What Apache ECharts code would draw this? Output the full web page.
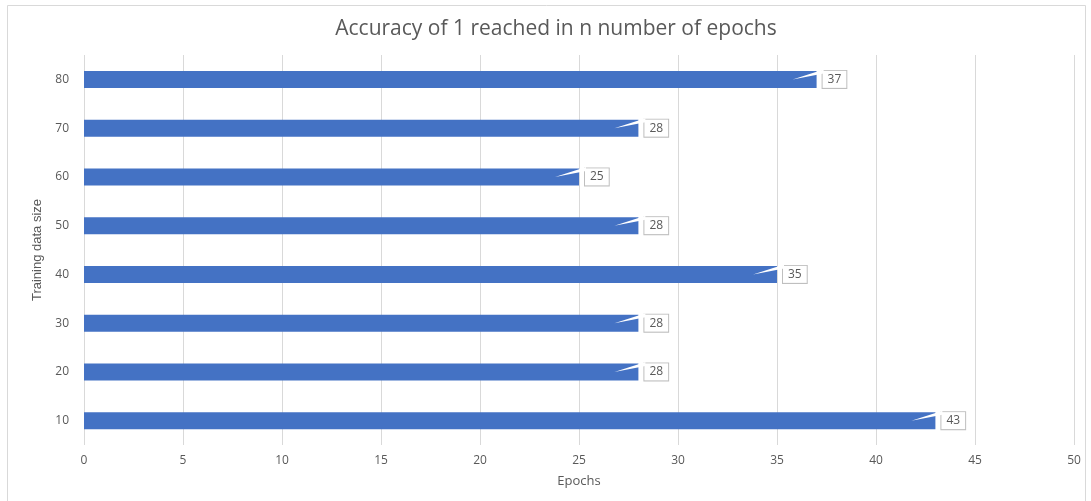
<!DOCTYPE html>
<html>
<head>
<meta charset="utf-8">
<script src="https://cdn.jsdelivr.net/npm/echarts@6/dist/echarts.min.js"></script>
<style>
  html, body { margin: 0; padding: 0; background: #fff; }
  #chart { width: 1091px; height: 501px; }
</style>
</head>
<body>
<div id="chart"></div>
<script>
// Training data sizes (bottom to top) and the epochs needed to reach accuracy 1
const sizes = ['10', '20', '30', '40', '50', '60', '70', '80'];
const epochs = [43, 28, 28, 35, 28, 25, 28, 37];
const epochTicks = [0, 5, 10, 15, 20, 25, 30, 35, 40, 45, 50];

const textColor = '#595959';
const barColor = '#4472c4';

const chart = echarts.init(document.getElementById('chart'), null, { renderer: 'canvas' });

chart.setOption({
  backgroundColor: '#ffffff',
  animation: false,
  title: {
    text: 'Accuracy of 1 reached in n number of epochs',
    left: 551,
    top: 14,
    textAlign: 'center',
    textStyle: { color: textColor, fontSize: 21, fontWeight: 'normal', fontFamily: 'Open Sans' }
  },
  graphic: [{
    type: 'rect',
    shape: { x: 7.5, y: 5.5, width: 1078, height: 500 },
    style: { fill: 'none', stroke: '#d9d9d9', lineWidth: 1 },
    silent: true
  }],
  grid: { left: 84, right: 17, top: 55, bottom: 56, containLabel: false },
  xAxis: {
    type: 'value',
    min: epochTicks[0],
    max: epochTicks[epochTicks.length - 1],
    interval: epochTicks[1] - epochTicks[0],
    name: 'Epochs',
    nameLocation: 'middle',
    nameGap: 30,
    nameTextStyle: { color: textColor, fontSize: 13, fontFamily: 'Open Sans' },
    axisLine: { show: false },
    axisTick: { show: false },
    axisLabel: { color: textColor, fontSize: 12, margin: 10, fontFamily: 'Open Sans' },
    splitLine: { show: true, lineStyle: { color: '#d9d9d9', width: 1 } }
  },
  yAxis: {
    type: 'category',
    data: sizes,
    name: 'Training data size',
    nameLocation: 'middle',
    nameGap: 36,
    nameRotate: 90,
    nameTextStyle: { color: textColor, fontSize: 13, fontFamily: 'Liberation Sans' },
    axisLine: { show: false },
    axisTick: { show: false },
    axisLabel: { color: textColor, fontSize: 12, margin: 15, fontFamily: 'Open Sans' },
    splitLine: { show: false }
  },
  series: [
    {
      type: 'bar',
      data: epochs,
      barWidth: 17,
      itemStyle: { color: barColor },
      z: 2,
      label: {
        show: true,
        position: 'right',
        distance: 6,
        color: textColor,
        fontSize: 12,
        fontFamily: 'Open Sans',
        backgroundColor: '#ffffff',
        borderColor: '#bfbfbf',
        borderWidth: 1,
        padding: [3, 5, 2, 5]
      }
    },
    {
      // white callout tail pointing from each value box into its bar
      type: 'custom',
      z: 3,
      silent: true,
      data: epochs.map((v, i) => [v, i]),
      renderItem: function (params, api) {
        const p = api.coord([api.value(0), api.value(1)]);
        const x = p[0], y = p[1];
        return {
          type: 'polygon',
          shape: { points: [[x - 24, y], [x + 7, y - 10], [x + 7, y - 6]] },
          style: { fill: '#ffffff', stroke: null }
        };
      }
    }
  ]
});
</script>
</body>
</html>
